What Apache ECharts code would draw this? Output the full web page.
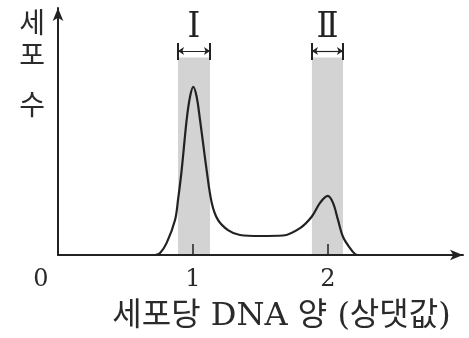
<!DOCTYPE html>
<html>
<head>
<meta charset="utf-8">
<script src="https://cdn.jsdelivr.net/npm/echarts@6/dist/echarts.min.js"></script>
<style>html,body{margin:0;padding:0;background:#fff}#c{width:469px;height:338px}</style>
</head>
<body>
<div id="c"></div>
<script>
// DNA amount per cell (relative) and cell count (relative units)
var dnaAmount = [0.719, 0.756, 0.805, 0.867, 0.889, 0.916, 0.953, 0.978, 1.002, 1.027, 1.052, 1.101, 1.139, 1.185, 1.259, 1.348, 1.496, 1.667, 1.793, 1.879, 1.941, 1.998, 2.037, 2.074, 2.111, 2.163, 2.200, 2.222];
var cellCount = [0, 0.8, 4.9, 14.2, 22.3, 34.4, 54.7, 64.1, 68.1, 64.1, 54.7, 34.4, 21.1, 14.2, 10.1, 8.1, 7.7, 7.9, 10.9, 15.5, 21.1, 23.9, 21.1, 14.2, 7.4, 2.8, 0.4, 0];
var xTickLabels = [0, 1, 2];
var xTicks = [1, 2];
var bandNames = ['Ⅰ', 'Ⅱ'];
var bandFrom = [0.889, 1.881];
var bandTo = [1.126, 2.111];
var bandTop = 80;
var bracketLow = 78.9, bracketHigh = 85.8, arrowLevel = 82.6;
var xTitle = '세포당 DNA 양 (상댓값)';
var yTitle = ['세', '포', '수'];

var curve = dnaAmount.map(function (x, i) { return [x, cellCount[i]]; });

var areas = [], lines = [];
bandNames.forEach(function (n, i) {
  areas.push([{ name: n, coord: [bandFrom[i], 0] }, { coord: [bandTo[i], bandTop] }]);
  lines.push([{ coord: [bandFrom[i], bracketLow] }, { coord: [bandFrom[i], bracketHigh] }]);
  lines.push([{ coord: [bandTo[i], bracketLow] }, { coord: [bandTo[i], bracketHigh] }]);
  lines.push([{ coord: [bandFrom[i], arrowLevel], symbol: 'arrow', lineStyle: { width: 1.2 } },
              { coord: [bandTo[i], arrowLevel], symbol: 'arrow' }]);
});

var serifKr = '"DejaVu Serif", "Noto Sans CJK KR"';
var kr = '"Noto Sans CJK KR"';
var ink = '#2a2a2a';

var chart = echarts.init(document.getElementById('c'), null, { renderer: 'canvas' });
chart.setOption({
  animation: false,
  backgroundColor: '#ffffff',
  grid: { left: 58, right: 6, top: 8, bottom: 83 },
  xAxis: {
    type: 'value', min: 0, max: 3, z: 10,
    name: xTitle,
    nameLocation: 'middle', nameGap: 46,
    nameTextStyle: { fontSize: 32, fontFamily: serifKr, color: ink, padding: [0, 0, 0, 42] },
    axisLine: { lineStyle: { color: '#222', width: 2 }, symbol: ['none', 'arrow'], symbolSize: [8, 13] },
    axisTick: { show: true, inside: true, length: 11, customValues: xTicks, lineStyle: { color: '#222', width: 1.5 } },
    axisLabel: {
      customValues: xTickLabels, fontSize: 24, fontFamily: '"DejaVu Serif"', color: ink, margin: 13,
      formatter: function (v) { return v === 0 ? '{z|0}' : String(v); },
      rich: { z: { fontSize: 24, fontFamily: '"DejaVu Serif"', color: ink, padding: [0, 34, 0, 0] } }
    },
    splitLine: { show: false }
  },
  yAxis: {
    type: 'value', min: 0, max: 100, z: 10,
    name: '{a|' + yTitle[0] + '}\n{b|' + yTitle[1] + '}\n{c|' + yTitle[2] + '}',
    nameLocation: 'end', nameGap: 2,
    nameTextStyle: {
      align: 'right', verticalAlign: 'top', padding: [0, 13, 0, 0],
      rich: {
        a: { fontSize: 28, lineHeight: 32, fontFamily: kr, color: ink },
        b: { fontSize: 28, lineHeight: 32, fontFamily: kr, color: ink },
        c: { fontSize: 28, lineHeight: 69, fontFamily: kr, color: ink }
      }
    },
    axisLine: { show: true, lineStyle: { color: '#222', width: 2 }, symbol: ['none', 'arrow'], symbolSize: [8, 13] },
    axisTick: { show: false },
    axisLabel: { show: false },
    splitLine: { show: false }
  },
  series: [
    {
      type: 'line', data: [], z: 1, silent: true,
      markArea: {
        silent: true,
        itemStyle: { color: '#d3d3d3' },
        label: { show: true, position: 'top', distance: 12, fontSize: 36, fontFamily: '"DejaVu Serif Condensed", "DejaVu Serif"', color: '#222', formatter: '{b}' },
        data: areas
      },
      markLine: {
        silent: true, symbol: ['none', 'none'], symbolSize: 6,
        label: { show: false },
        lineStyle: { type: 'solid', color: '#222', width: 2 },
        data: lines
      }
    },
    {
      type: 'line', data: curve, z: 3, smooth: 0.35, showSymbol: false, silent: true,
      lineStyle: { color: '#222', width: 2.2 }
    }
  ]
});
</script>
</body>
</html>
